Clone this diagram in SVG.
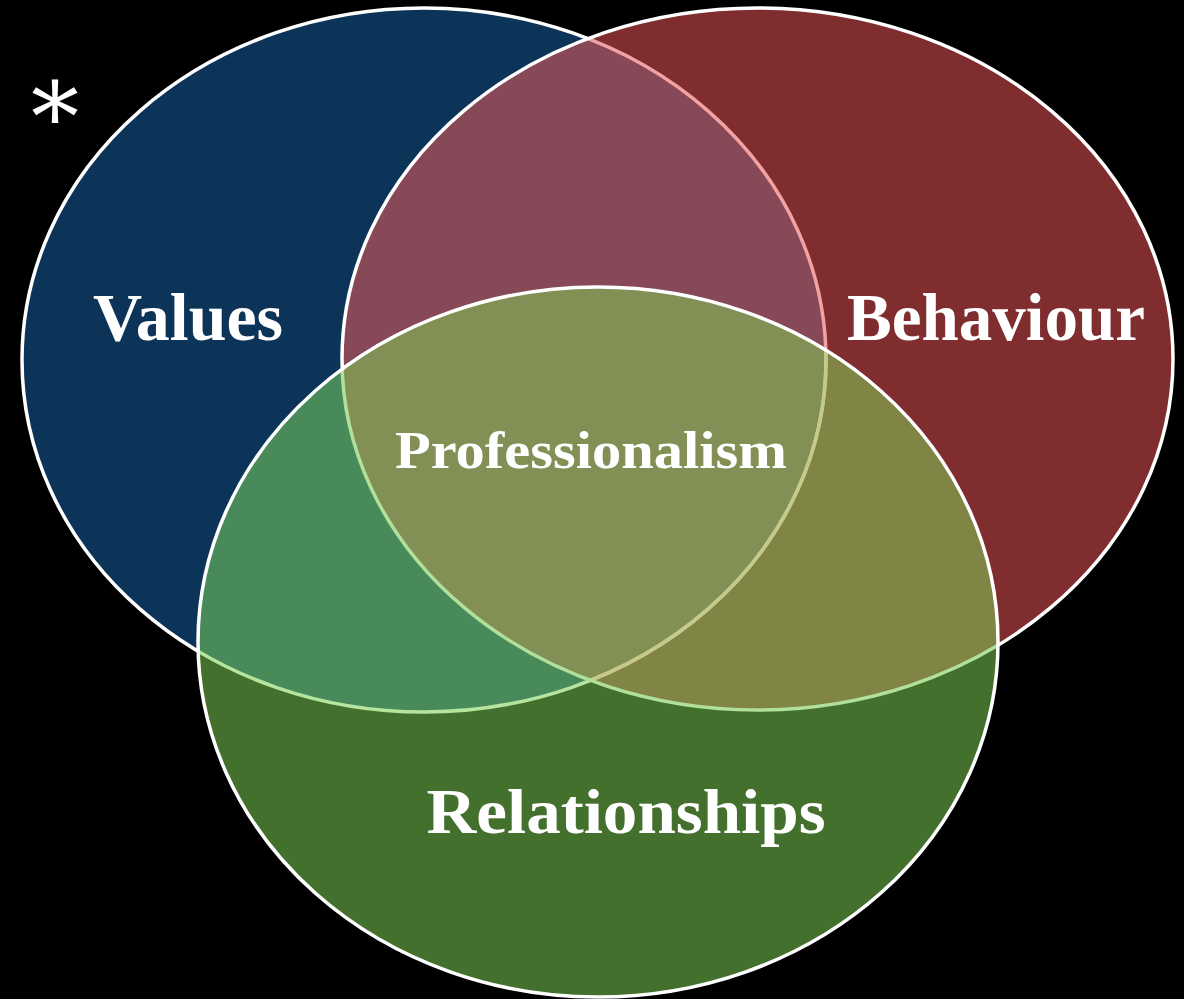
<svg xmlns="http://www.w3.org/2000/svg" width="1184" height="999" viewBox="0 0 1184 999">
<style>
.lbl{font-family:"Liberation Serif","DejaVu Serif",serif;font-weight:bold;fill:#ffffff;text-anchor:middle}
.edge{fill:none;stroke-width:3.5}
</style>
<defs>
<ellipse id="eB" cx="424" cy="360" rx="402" ry="352"/>
<ellipse id="eR" cx="757.5" cy="359" rx="415.5" ry="351"/>
<ellipse id="eG" cx="598" cy="642" rx="400" ry="355"/>
<clipPath id="cB"><use href="#eB"/></clipPath>
<clipPath id="cR"><use href="#eR"/></clipPath>
<clipPath id="cG"><use href="#eG"/></clipPath>
</defs>
<rect x="0" y="0" width="1184" height="999" fill="#000000"/>
<g id="star">
<text x="55" y="150" font-family="DejaVu Serif, serif" font-size="96" fill="#ffffff" text-anchor="middle">*</text>
</g>
<g id="node-values">
<use href="#eB" fill="#0c3358"/>
<use href="#eB" class="edge" stroke="#ffffff"/>
<text class="lbl" x="188" y="340" font-size="68" textLength="190" lengthAdjust="spacingAndGlyphs">Values</text>
</g>
<g id="node-behaviour">
<use href="#eR" fill="#7f2d2f"/>
<g clip-path="url(#cB)"><use href="#eR" fill="#874858"/></g>
<g clip-path="url(#cR)"><use href="#eB" class="edge" stroke="#f2a2a2"/></g>
<use href="#eR" class="edge" stroke="#ffffff"/>
<text class="lbl" x="996" y="340" font-size="68" textLength="298" lengthAdjust="spacingAndGlyphs">Behaviour</text>
</g>
<g id="node-relationships">
<use href="#eG" fill="#44702e"/>
<g clip-path="url(#cB)"><use href="#eG" fill="#488a5a"/></g>
<g clip-path="url(#cR)"><use href="#eG" fill="#808444"/></g>
<g clip-path="url(#cB)"><g clip-path="url(#cR)"><use href="#eG" fill="#829056"/></g></g>
<g clip-path="url(#cG)"><use href="#eB" class="edge" stroke="#b4e49e"/></g>
<g clip-path="url(#cG)"><g clip-path="url(#cR)"><use href="#eB" class="edge" stroke="#c8c88c"/></g></g>
<g clip-path="url(#cG)"><use href="#eR" class="edge" stroke="#b0e09a"/></g>
<use href="#eG" class="edge" stroke="#ffffff"/>
<text class="lbl" x="626" y="833" font-size="64" textLength="399" lengthAdjust="spacingAndGlyphs">Relationships</text>
</g>
<g id="node-professionalism">
<text class="lbl" x="591" y="468" font-size="53" textLength="392" lengthAdjust="spacingAndGlyphs">Professionalism</text>
</g>
<g id="connectors"></g>
</svg>
